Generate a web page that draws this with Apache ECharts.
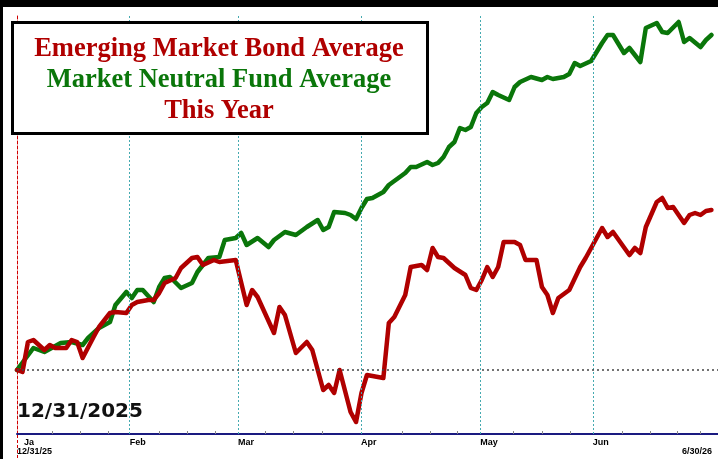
<!DOCTYPE html>
<html>
<head>
<meta charset="utf-8">
<script src="https://cdn.jsdelivr.net/npm/echarts@6/dist/echarts.min.js"></script>
<style>
  html, body { margin: 0; padding: 0; background: #fff; }
  #chart { width: 718px; height: 459px; }
</style>
</head>
<body>
<div id="chart"></div>
<script>
// x is in trading days from 12/31/25, y is % change
const emDays = [0, 1, 2, 3, 5, 6, 7, 9, 10, 11, 12, 14, 15, 17, 18, 20, 21, 22, 24, 25, 26, 27, 29, 30, 32, 33, 34, 36, 37, 40,
  42, 43, 44, 47, 48, 49, 51, 53, 54, 56, 57, 58, 59, 61, 62, 63, 64, 67, 68, 69, 71, 72, 74, 75, 76, 77, 78, 80, 82, 83,
  84, 85, 86, 87, 88, 89, 91, 92, 93, 95, 96, 97, 98, 99, 101, 103, 104, 106, 107, 108, 109, 112, 113, 114, 115, 117, 118, 119, 120, 122,
  123, 124, 125, 126, 127]
const emVals = [0, -0.2, 2.8, 3.0, 2.0, 2.5, 2.2, 2.2, 3.0, 2.8, 1.2, 3.3, 4.3, 5.7, 5.8, 5.7, 6.5, 6.8, 7.0, 7.0, 7.7, 8.7, 9.2, 10.2, 11.2, 11.3, 10.5, 11.0, 10.8, 11.0,
  6.5, 8.0, 7.3, 3.7, 6.3, 5.5, 1.7, 2.8, 2.0, -2.0, -1.5, -2.3, 0, -4.2, -5.2, -2.3, -0.5, -0.8, 4.7, 5.3, 7.5, 10.3, 10.5, 10.0, 12.2, 11.3, 11.2, 10.2, 9.5, 8.2,
  8.0, 9.0, 10.3, 9.3, 10.3, 12.8, 12.8, 12.5, 11.0, 11.0, 8.3, 7.5, 5.7, 7.2, 8.0, 10.3, 11.2, 13.2, 14.2, 13.3, 13.8, 11.5, 12.2, 11.7, 14.3, 16.8, 17.2, 16.2, 16.3, 14.7,
  15.5, 15.7, 15.5, 15.9, 16.0]

const mnDays = [0, 3, 5, 8, 10, 12, 13, 15, 17, 18, 20, 21, 22, 23, 25, 26, 27, 28, 30, 32, 33, 35, 37, 38, 40, 41, 42, 44, 46, 47,
  49, 51, 53, 55, 56, 57, 58, 60, 61, 62, 63, 64, 65, 67, 68, 70, 71, 72, 73, 75, 76, 77, 78, 79, 80, 81, 82, 83, 84, 85,
  86, 87, 88, 90, 91, 92, 94, 96, 97, 98, 100, 101, 102, 103, 105, 107, 108, 109, 111, 112, 114, 115, 117, 118, 119, 121, 122, 123, 125, 126,
  127]
const mnVals = [0, 2.2, 1.8, 2.7, 2.8, 2.5, 3.2, 4.2, 4.8, 6.5, 7.8, 7.2, 8.0, 8.0, 6.8, 8.3, 9.2, 9.3, 8.2, 8.7, 9.8, 11.2, 11.3, 13.0, 13.2, 13.7, 12.5, 13.2, 12.3, 13.0,
  13.8, 13.5, 14.3, 15.0, 14.0, 14.3, 15.8, 15.7, 15.5, 15.1, 16.2, 17.1, 17.2, 17.8, 18.5, 19.3, 19.7, 20.3, 20.3, 20.8, 20.5, 20.7, 21.3, 22.3, 22.8, 24.2, 24.0, 24.3, 25.7, 26.3,
  26.7, 27.8, 27.5, 27.0, 28.3, 28.8, 29.3, 29.0, 29.3, 29.1, 29.3, 29.6, 30.7, 30.4, 30.9, 32.7, 33.5, 33.5, 31.7, 32.2, 30.8, 34.2, 34.7, 33.8, 33.7, 34.8, 32.8, 33.2, 32.3, 33.0,
  33.5]

const monthNames = ['Ja', 'Feb', 'Mar', 'Apr', 'May', 'Jun']
const monthStarts = [1.3, 20.6, 40.4, 62.9, 84.7, 105.3]
const weekTicks = [6.4, 11.5, 16.6, 26.0, 31.1, 36.2, 45.4, 50.5, 55.8, 70.4, 75.5, 80.5, 90.7, 96.0, 101.1, 110.6, 115.8, 120.7, 124.9]

const titleLines = ['Emerging Market Bond Average', 'Market Neutral Fund Average', 'This Year']

const RED = '#b00000'
const GREEN = '#0a760a'

const chart = echarts.init(document.getElementById('chart'))

const toPairs = (days, vals) => days.map((d, i) => [d, vals[i]])

const option = {
  animation: false,
  backgroundColor: '#fff',
  grid: { left: 17, right: 0, top: 14, bottom: 25 },
  xAxis: {
    type: 'value',
    min: 0,
    max: 128.2,
    splitLine: { show: false },
    axisLine: { onZero: false, lineStyle: { color: '#1a1a80', width: 2 } },
    axisTick: {
      show: true,
      inside: true,
      length: 3,
      customValues: weekTicks,
      lineStyle: { color: '#888', width: 1 }
    },
    axisLabel: {
      customValues: monthStarts,
      formatter: (v) => {
        const i = monthStarts.indexOf(v)
        return i >= 0 ? monthNames[i] : ''
      },
      align: 'left',
      margin: 4,
      color: '#000',
      fontSize: 9,
      fontWeight: 'bold',
      fontFamily: 'Liberation Sans'
    }
  },
  yAxis: {
    type: 'value',
    min: -6.4,
    max: 35.6,
    splitLine: { show: false },
    axisTick: { show: false },
    axisLabel: { show: false },
    axisLine: { show: true, lineStyle: { color: '#d00000', type: [3, 2], width: 1 } }
  },
  series: [
    {
      name: 'Market Neutral Fund Average',
      type: 'line',
      data: toPairs(mnDays, mnVals),
      symbol: 'none',
      lineStyle: { color: GREEN, width: 4.5, join: 'round', cap: 'round' },
      z: 3,
      markLine: {
        silent: true,
        symbol: 'none',
        label: { show: false },
        lineStyle: { color: '#45aab0', type: [2, 2], width: 1 },
        data: monthStarts.slice(1).map((m) => ({ xAxis: m }))
      }
    },
    {
      name: 'Emerging Market Bond Average',
      type: 'line',
      data: toPairs(emDays, emVals),
      symbol: 'none',
      lineStyle: { color: RED, width: 4.5, join: 'round', cap: 'round' },
      z: 4,
      markLine: {
        silent: true,
        symbol: 'none',
        label: { show: false },
        lineStyle: { color: '#444', type: [2, 3], width: 1.5 },
        data: [{ yAxis: 0 }]
      }
    }
  ],
  graphic: [
    { type: 'rect', shape: { x: 0, y: 0, width: 718, height: 7 }, style: { fill: '#000' }, z: 100 },
    { type: 'rect', shape: { x: 0, y: 0, width: 3, height: 459 }, style: { fill: '#000' }, z: 100 },
    {
      type: 'line',
      shape: { x1: 17.5, y1: 435, x2: 17.5, y2: 459 },
      style: { stroke: '#d00000', lineWidth: 1, lineDash: [3, 2] },
      z: 100
    },
    {
      type: 'rect',
      shape: { x: 12.5, y: 22.5, width: 415, height: 111 },
      style: { fill: '#fff', stroke: '#000', lineWidth: 3 },
      z: 100
    },
    ...titleLines.map((t, i) => ({
      type: 'text',
      x: 219,
      y: 49 + i * 31,
      z: 101,
      style: {
        text: t,
        fill: i === 1 ? GREEN : RED,
        font: 'bold 26.5px "Liberation Serif"',
        textAlign: 'center',
        textVerticalAlign: 'middle'
      }
    })),
    {
      type: 'text',
      x: 17,
      y: 412,
      z: 101,
      style: {
        text: '12/31/2025',
        fill: '#111',
        font: 'bold 20px "DejaVu Sans"',
        textAlign: 'left',
        textVerticalAlign: 'middle'
      }
    },
    {
      type: 'text',
      x: 17,
      y: 452,
      z: 101,
      style: { text: '12/31/25', fill: '#000', font: 'bold 9px "Liberation Sans"', textAlign: 'left', textVerticalAlign: 'middle' }
    },
    {
      type: 'text',
      x: 712,
      y: 452,
      z: 101,
      style: { text: '6/30/26', fill: '#000', font: 'bold 9px "Liberation Sans"', textAlign: 'right', textVerticalAlign: 'middle' }
    }
  ]
}

chart.setOption(option)
</script>
</body>
</html>
